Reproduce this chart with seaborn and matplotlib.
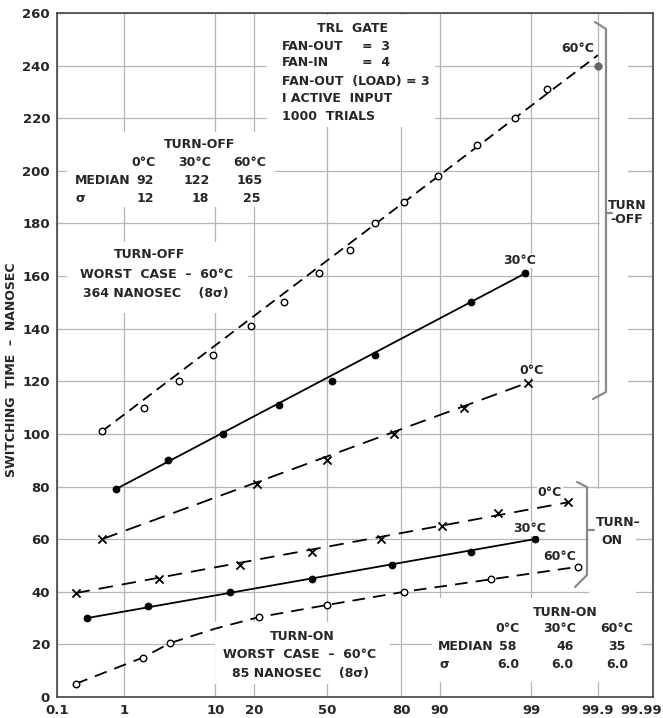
"""
Switching time of a TRL gate (turn-off / turn-on) on normal probability paper.
"""
from statistics import NormalDist

import numpy as np
import seaborn as sns
import matplotlib.pyplot as plt
import matplotlib.transforms as mtransforms
from matplotlib.patches import Rectangle
from matplotlib.ticker import FixedLocator, FixedFormatter

# ---- data (cumulative percent, nanoseconds) ----
off60_p = [0.5, 1.8, 4.5, 9.5, 19, 31, 46, 60, 70.6, 81, 89.7, 95.6, 98.4, 99.4]
off60_t = [101, 110, 120, 130, 141, 150, 161, 170, 180, 188, 198, 210, 220, 231]
off60_end_p = [99.9]
off60_end_t = [240]
off60_fit_p = [0.5, 99.9]
off60_fit_t = [101, 244]

off30_p = [0.78, 3.4, 11.6, 29, 52, 70.6, 95, 98.8]
off30_t = [79, 90, 100, 111, 120, 130, 150, 161]
off30_fit_p = [0.78, 98.8]
off30_fit_t = [79, 161]

off0_p = [0.5, 21, 50, 77.6, 94, 98.9]
off0_t = [60, 81, 90, 100, 110, 119.5]
off0_fit_p = [0.5, 98.9]
off0_fit_t = [60, 119.5]

on0_p = [0.2, 2.7, 15.9, 43, 73, 90.4, 97.4, 99.7]
on0_t = [39.5, 45, 50, 55, 60, 65, 70, 74]
on0_fit_p = [0.2, 99.7]
on0_fit_t = [39.5, 74]

on30_p = [0.3, 2, 13.3, 43, 77, 95, 99.1]
on30_t = [30, 34.6, 40, 45, 50, 55, 60]
on30_fit_p = [0.3, 99.1]
on30_fit_t = [30, 60]

on60_p = [0.2, 1.75, 3.6, 21.8, 50, 81, 96.9, 99.79]
on60_t = [5, 15, 20.5, 30.4, 35, 40, 45, 49.5]
on60_fit_p = [0.2, 1.75, 3.6, 10, 21.8, 50, 81, 99.79]
on60_fit_t = [5, 15, 20.5, 26, 30.4, 35, 40, 49.5]

x_ticks = [0.1, 1, 10, 20, 50, 80, 90, 99, 99.9, 99.99]
x_labels = ["0.1", "1", "10", "20", "50", "80", "90", "99", "99.9", "99.99"]
y_ticks = list(range(0, 261, 20))

# ---- probability scale ----
_nd = NormalDist()
_ppf = np.vectorize(_nd.inv_cdf, otypes=[float])
_cdf = np.vectorize(_nd.cdf, otypes=[float])


def prob_fwd(p):
    p = np.asarray(p, dtype=float)
    out = np.full(p.shape, np.nan)
    ok = np.isfinite(p)
    out[ok] = _ppf(np.clip(p[ok], 1e-7, 100 - 1e-7) / 100.0)
    return out


def prob_inv(z):
    z = np.asarray(z, dtype=float)
    out = np.full(z.shape, np.nan)
    ok = np.isfinite(z)
    out[ok] = _cdf(z[ok]) * 100.0
    return out


sns.set_style("white")
plt.rcParams["font.family"] = ["DejaVu Sans"]

W, H = 663, 718
fig = plt.figure(figsize=(W / 100, H / 100), dpi=100)
L, R, T, B = 57, 653, 13, 697
ax = fig.add_axes([L / W, (H - B) / H, (R - L) / W, (B - T) / H])
ax.set_xscale("function", functions=(prob_fwd, prob_inv))
ax.set_xlim(0.1, 99.99)
ax.set_ylim(0, 260)


def px(x, y):
    # pixel position in the picture -> axes fraction
    return (x - L) / (R - L), (B - y) / (B - T)


# white areas where the grid is blanked behind the lettering
masks = [
    (267, 15, 435, 127), (67, 132, 275, 207), (67, 242, 248, 313),
    (215, 622, 390, 684), (432, 598, 642, 682), (600, 14, 628, 395),
    (610, 193, 650, 232), (589, 489, 636, 598),
]
for x0, y0, x1, y1 in masks:
    ax0, ay1 = px(x0, y0)
    ax1, ay0 = px(x1, y1)
    ax.add_patch(Rectangle((ax0, ay0), ax1 - ax0, ay1 - ay0, transform=ax.transAxes,
                           facecolor="white", edgecolor="none", zorder=1))

# fitted lines
lw = 1.3
sns.lineplot(x=off60_fit_p, y=off60_fit_t, ax=ax, color="black", lw=lw, linestyle=(0, (6, 3.5)), zorder=3)
sns.lineplot(x=off30_fit_p, y=off30_fit_t, ax=ax, color="black", lw=lw, zorder=3)
sns.lineplot(x=off0_fit_p, y=off0_fit_t, ax=ax, color="black", lw=lw, linestyle=(0, (9, 5)), zorder=3)
sns.lineplot(x=on0_fit_p, y=on0_fit_t, ax=ax, color="black", lw=lw, linestyle=(0, (8, 5)), zorder=3)
sns.lineplot(x=on30_fit_p, y=on30_fit_t, ax=ax, color="black", lw=lw, zorder=3)
sns.lineplot(x=on60_fit_p, y=on60_fit_t, ax=ax, color="black", lw=lw, linestyle=(0, (7, 4.5)), zorder=3,
             sort=False)

# measured points
open_kw = dict(marker="o", s=22, facecolor="white", edgecolor="black", linewidth=1.0, zorder=4)
dot_kw = dict(marker="o", s=26, color="black", edgecolor="black", linewidth=0.5, zorder=4)
x_kw = dict(marker="x", s=34, color="black", linewidth=1.3, zorder=4)
sns.scatterplot(x=off60_p, y=off60_t, ax=ax, **open_kw)
sns.scatterplot(x=off60_end_p, y=off60_end_t, ax=ax, marker="o", s=30, color="#666666",
                edgecolor="#666666", zorder=4)
sns.scatterplot(x=off30_p, y=off30_t, ax=ax, **dot_kw)
sns.scatterplot(x=off0_p, y=off0_t, ax=ax, **x_kw)
sns.scatterplot(x=on0_p, y=on0_t, ax=ax, **x_kw)
sns.scatterplot(x=on30_p, y=on30_t, ax=ax, **dot_kw)
sns.scatterplot(x=on60_p, y=on60_t, ax=ax, **open_kw)

# axes, ticks, grid
ax.xaxis.set_major_locator(FixedLocator(x_ticks))
ax.xaxis.set_major_formatter(FixedFormatter(x_labels))
ax.xaxis.set_minor_locator(FixedLocator([]))
ax.set_yticks(y_ticks)
ax.grid(True, color="#b5b5b5", lw=0.9, zorder=0)
ax.set_axisbelow(True)
ax.tick_params(length=0, labelsize=9.5, pad=5)
for lab in ax.get_xticklabels() + ax.get_yticklabels():
    lab.set_fontweight("bold")
# last label sits at the very edge of the sheet
last = ax.get_xticklabels()[-1]
last.set_horizontalalignment("right")
last.set_transform(last.get_transform() + mtransforms.ScaledTranslation(9 / 100, 0, fig.dpi_scale_trans))
for sp in ax.spines.values():
    sp.set_color("#444444")
    sp.set_linewidth(1.2)
ax.set_xlabel("")
ax.set_ylabel("SWITCHING  TIME  –  NANOSEC", fontsize=9, fontweight="bold")
ax.yaxis.set_label_coords(*px(18, 370))

FS = 9
txt = dict(transform=ax.transAxes, fontsize=FS, fontweight="bold", va="center", zorder=5)


def put(x, y, s, ha="center", bg=False):
    kw = dict(txt)
    if bg:
        kw["bbox"] = dict(facecolor="white", edgecolor="none", pad=0.5)
    ax.text(*px(x, y), s, ha=ha, **kw)


# header block
put(317, 28, "TRL  GATE", ha="left")
put(282, 46, "FAN-OUT", ha="left")
put(362, 46, "=  3", ha="left")
put(282, 63, "FAN-IN", ha="left")
put(362, 63, "=  4", ha="left")
put(282, 81, "FAN-OUT  (LOAD) = 3", ha="left")
put(282, 98, "I ACTIVE  INPUT", ha="left")
put(282, 116, "1000  TRIALS", ha="left")

# turn-off table
put(200, 145, "TURN-OFF")
for xx, s in zip([144, 195, 250], ["0°C", "30°C", "60°C"]):
    put(xx, 163, s)
put(75, 181, "MEDIAN", ha="left")
for xx, s in zip([145, 197, 250], ["92", "122", "165"]):
    put(xx, 181, s)
put(75, 198, "σ", ha="left")
for xx, s in zip([145, 200, 252], ["12", "18", "25"]):
    put(xx, 198, s)

put(150, 255, "TURN-OFF")
put(157, 274, "WORST  CASE  –  60°C")
put(156, 293, "364 NANOSEC    (8σ)")

# turn-on notes
put(302, 636, "TURN-ON")
put(300, 654, "WORST  CASE  –  60°C")
put(300, 673, "85 NANOSEC    (8σ)")

put(565, 612, "TURN-ON")
for xx, s in zip([508, 560, 617], ["0°C", "30°C", "60°C"]):
    put(xx, 629, s)
put(438, 647, "MEDIAN", ha="left")
for xx, s in zip([508, 565, 617], ["58", "46", "35"]):
    put(xx, 647, s)
put(440, 665, "σ", ha="left")
for xx in [508, 562, 617]:
    put(xx, 665, "6.0")

# curve labels
put(578, 48, "60°C", bg=True)
put(520, 261, "30°C", bg=True)
put(532, 370, "0°C", bg=True)
put(550, 492, "0°C", bg=True)
put(530, 529, "30°C", bg=True)
put(560, 556, "60°C", bg=True)

# brackets
brk = dict(transform=ax.transAxes, color="#8a8a8a", lw=1.6, clip_on=False, zorder=5)
for path in ([(595, 22), (606, 29), (606, 392), (593, 399)], [(606, 213), (612, 213)],
             [(577, 482), (587, 487), (587, 575), (575, 587)], [(587, 530), (594, 530)]):
    xs, ys = zip(*[px(a, b) for a, b in path])
    ax.plot(xs, ys, **brk)

put(627, 212, "TURN\n-OFF")
ax.texts[-1].set_linespacing(1.1)
put(618, 523, "TURN–")
put(612, 540, "ON")

fig.savefig("out.png", dpi=100)
